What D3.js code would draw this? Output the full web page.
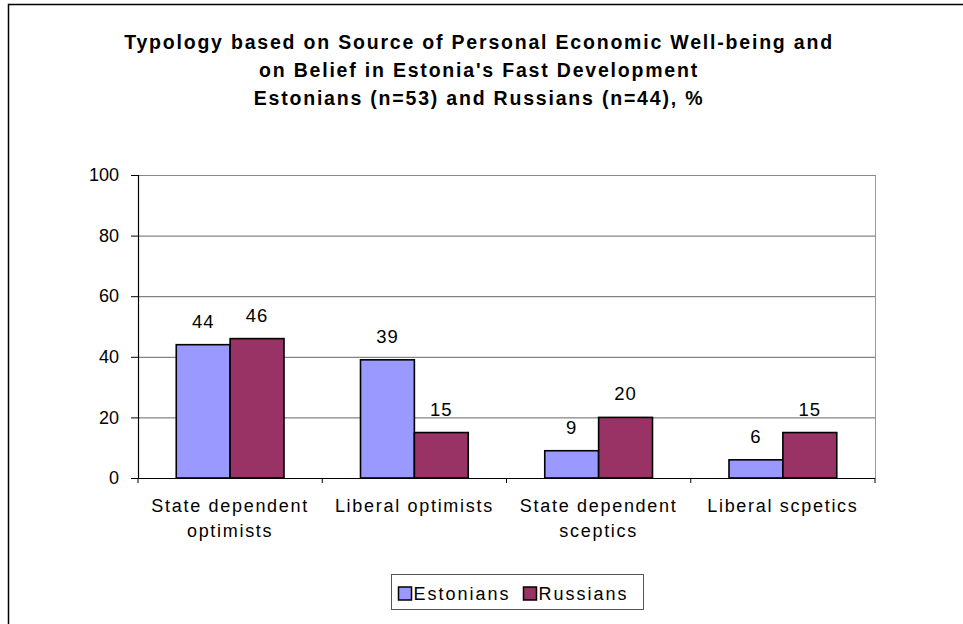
<!DOCTYPE html>
<html><head><meta charset="utf-8">
<script src="https://cdn.jsdelivr.net/npm/d3@7"></script>
<style>body{margin:0;background:#fff}svg{display:block;font-family:Arial,"Liberation Sans",sans-serif}</style>
</head><body><svg id="c" width="963" height="624"></svg>
<script>
const titleLines = ["Typology based on Source of Personal Economic Well-being and","on Belief in Estonia's Fast Development","Estonians (n=53) and Russians (n=44), %"];
const categories = [["State dependent","optimists"],["Liberal optimists"],["State dependent","sceptics"],["Liberal scpetics"]];
const seriesNames = ["Estonians","Russians"];
const estonians = [44,39,9,6];
const russians = [46,15,20,15];
const yTicks = [0,20,40,60,80,100];
const colors = ["#9999FF","#993366"];

const svg = d3.select("#c");
svg.append("rect").attr("x",8.5).attr("y",4.5).attr("width",980).attr("height",640).attr("fill","#fff").attr("stroke","#000").attr("stroke-width",1.5);

const L=138,R=875,T=175,B=478;
const x = d3.scaleBand().domain(d3.range(categories.length)).range([L,R]).paddingInner(0).paddingOuter(0);
const xs = d3.scaleBand().domain(seriesNames).range([0,x.bandwidth()]).paddingInner(0).paddingOuter(0.71);
const y = d3.scaleLinear().domain([0,100]).range([B,T]);

svg.append("g").selectAll("text").data(titleLines).join("text")
  .attr("x",479).attr("y",(d,i)=>49+i*28).attr("text-anchor","middle")
  .attr("font-weight","bold").attr("font-size",19.5).attr("letter-spacing","1.8").text(d=>d);

// grid
svg.append("g").selectAll("line").data(yTicks.filter(t=>t>0)).join("line")
  .attr("x1",L).attr("x2",R).attr("y1",d=>y(d)+0.5).attr("y2",d=>y(d)+0.5)
  .attr("stroke",d=>d===100?"#888":"#666").attr("stroke-width",1);
svg.append("line").attr("x1",R+0.5).attr("x2",R+0.5).attr("y1",T).attr("y2",B).attr("stroke","#999");

// bars
const data = seriesNames.map((s,si)=>({s,si,vals:si===0?estonians:russians}));
const g = svg.append("g");
data.forEach(ser=>{
  g.selectAll(null).data(ser.vals).join("rect")
    .attr("x",(d,i)=>x(i)+xs(ser.s)).attr("y",d=>y(d))
    .attr("width",xs.bandwidth()).attr("height",d=>B-y(d))
    .attr("fill",colors[ser.si]).attr("stroke","#000").attr("stroke-width",1.6);
  g.selectAll(null).data(ser.vals).join("text")
    .attr("x",(d,i)=>x(i)+xs(ser.s)+xs.bandwidth()/2).attr("y",d=>y(d)-17)
    .attr("text-anchor","middle").attr("font-size",18.5).attr("letter-spacing","1").text(d=>d);
});

// y axis
const ya = svg.append("g").attr("transform",`translate(${L},0)`)
  .call(d3.axisLeft(y).tickValues(yTicks).tickSize(7).tickPadding(12));
ya.select(".domain").attr("stroke","#000").attr("stroke-width",1.2);
ya.selectAll(".tick line").attr("stroke","#000");
ya.selectAll("text").attr("font-size",18).attr("font-family","Arial,'Liberation Sans',sans-serif").attr("fill","#000");

// x axis
svg.append("line").attr("x1",L).attr("x2",R).attr("y1",B+0.5).attr("y2",B+0.5).attr("stroke","#000").attr("stroke-width",1.2);
svg.append("g").selectAll("line").data(d3.range(categories.length+1)).join("line")
  .attr("x1",i=>L+i*x.bandwidth()).attr("x2",i=>L+i*x.bandwidth()).attr("y1",B).attr("y2",B+5).attr("stroke","#000");
const cl = svg.append("g").selectAll("text").data(categories).join("text")
  .attr("text-anchor","middle").attr("font-size",18).attr("letter-spacing","1.7");
cl.each(function(d,i){
  d3.select(this).selectAll("tspan").data(d).join("tspan")
    .attr("x",x(i)+x.bandwidth()/2).attr("y",(t,j)=>512+j*25).text(t=>t);
});

// legend
const lg = svg.append("g");
lg.append("rect").attr("x",391.5).attr("y",574.5).attr("width",252).attr("height",35).attr("fill","#fff").attr("stroke","#555").attr("stroke-width",1);
const lx = [398.5,523.5];
seriesNames.forEach((s,i)=>{
  lg.append("rect").attr("x",lx[i]).attr("y",587).attr("width",13).attr("height",13).attr("fill",colors[i]).attr("stroke","#000").attr("stroke-width",1.5);
  lg.append("text").attr("x",lx[i]+15).attr("y",599.5).attr("font-size",18).attr("letter-spacing","2").text(s);
});
</script></body></html>
